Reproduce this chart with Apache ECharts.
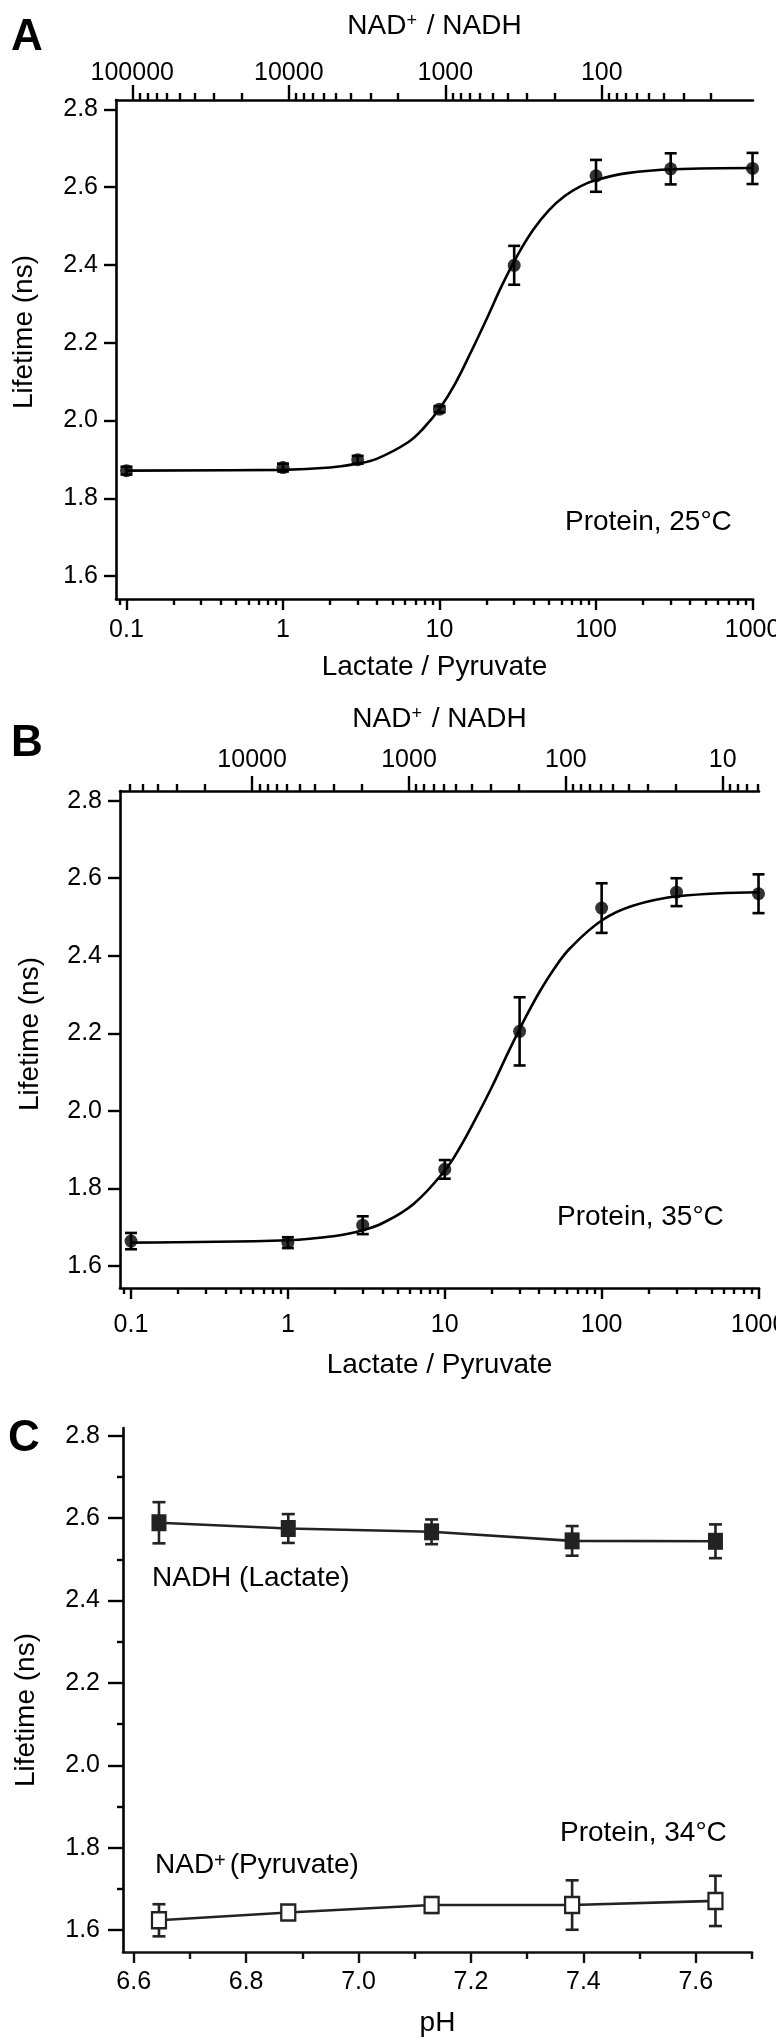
<!DOCTYPE html>
<html><head><meta charset="utf-8">
<script src="https://cdn.jsdelivr.net/npm/echarts@6/dist/echarts.min.js"></script>
<style>html,body{margin:0;padding:0;background:#fff}#c{width:776px;height:2039px}</style>
</head><body><div id="c"></div>
<script>
// ---------------- data ----------------
const lactatePyruvate = [0.1, 1, 3, 10, 30, 100, 300, 1000];
// Panel A: Protein, 25°C
const lifetimeA = [1.871, 1.879, 1.899, 2.029, 2.399, 2.629, 2.647, 2.648];
const errorA    = [0.010, 0.010, 0.010, 0.008, 0.050, 0.041, 0.040, 0.040];
// fitted curve (Lactate/Pyruvate, lifetime)
const fitA_ratio = [0.1, 1, 2, 3, 4, 6.3, 7.9, 10, 12.6, 15.8, 20, 25.1, 31.6, 39.8, 50.1, 63.1, 79.4, 100, 158, 316, 1000];
const fitA_life  = [1.871, 1.873, 1.879, 1.889, 1.902, 1.944, 1.980, 2.030, 2.095, 2.174, 2.261, 2.348, 2.426, 2.491, 2.541, 2.577, 2.602, 2.618, 2.636, 2.646, 2.649];
// Panel B: Protein, 35°C
const lifetimeB = [1.664, 1.660, 1.705, 1.849, 2.205, 2.523, 2.564, 2.560];
const errorB    = [0.021, 0.014, 0.023, 0.024, 0.088, 0.064, 0.036, 0.050];
const fitB_ratio = [0.1, 1, 2, 3, 4, 6.3, 10, 12.6, 15.8, 20, 25.1, 31.6, 39.8, 50.1, 63.1, 100, 158, 316, 1000];
const fitB_life  = [1.660, 1.666, 1.677, 1.692, 1.710, 1.759, 1.846, 1.908, 1.981, 2.062, 2.147, 2.229, 2.304, 2.368, 2.420, 2.491, 2.529, 2.554, 2.564];
// Panel C: Protein, 34°C
const pH = [6.645, 6.875, 7.13, 7.38, 7.635];
const nadhLactate    = [2.589, 2.575, 2.567, 2.545, 2.544];
const nadhLactateErr = [0.050, 0.035, 0.030, 0.036, 0.041];
const nadPyruvate    = [1.624, 1.643, 1.661, 1.661, 1.671];
const nadPyruvateErr = [0.039, 0.017, 0.019, 0.060, 0.061];

// tick labels
const lpTickValues = [0.1, 1, 10, 100, 1000];
const lpTickLabels = ['0.1', '1', '10', '100', '1000'];
const nadTickValuesA = [100000, 10000, 1000, 100];
const nadTickLabelsA = ['100000', '10000', '1000', '100'];
const nadTickValuesB = [10000, 1000, 100, 10];
const nadTickLabelsB = ['10000', '1000', '100', '10'];
const lifeTicks = [1.6, 1.8, 2.0, 2.2, 2.4, 2.6, 2.8];
const lifeTickLabels = ['1.6', '1.8', '2.0', '2.2', '2.4', '2.6', '2.8'];
const lifeMinorTicks = [1.7, 1.9, 2.1, 2.3, 2.5, 2.7];
const phTicks = [6.6, 6.8, 7.0, 7.2, 7.4, 7.6];
const phTickLabels = ['6.6', '6.8', '7.0', '7.2', '7.4', '7.6'];
const phMinorTicks = [6.7, 6.9, 7.1, 7.3, 7.5, 7.7];
// NAD+/NADH = 10^logK / (Lactate/Pyruvate)
const logK_A = 4.037;
const logK_B = 3.772;

// ---------------- helpers ----------------
const FONT = '"Liberation Sans", Arial, Helvetica, sans-serif';
const BLACK = '#000';
const log10 = Math.log10;
function minorLog(lo, hi) {
  const out = [];
  for (let n = Math.floor(lo) - 1; n <= Math.ceil(hi); n++) {
    for (let k = 2; k <= 9; k++) {
      const v = n + log10(k);
      if (v >= lo - 1e-9 && v <= hi + 1e-9) out.push(v);
    }
  }
  return out;
}
function nearestLabel(v, positions, labels) {
  let best = 0, bd = Infinity;
  positions.forEach((p, i) => { const d = Math.abs(p - v); if (d < bd) { bd = d; best = i; } });
  return labels[best];
}
const lineW = 2.6;
function errRender(cap, color) {
  return function (params, api) {
    const x = api.value(0), y = api.value(1), e = api.value(2);
    const t = api.coord([x, y + e]), b = api.coord([x, y - e]);
    const h = cap / 2;
    const st = { stroke: color, lineWidth: lineW, fill: null };
    return { type: 'group', children: [
      { type: 'line', shape: { x1: t[0], y1: t[1], x2: b[0], y2: b[1] }, style: st },
      { type: 'line', shape: { x1: t[0] - h, y1: t[1], x2: t[0] + h, y2: t[1] }, style: st },
      { type: 'line', shape: { x1: b[0] - h, y1: b[1], x2: b[0] + h, y2: b[1] }, style: st }
    ]};
  };
}
const xTickFont = { fontSize: 25, color: BLACK, fontFamily: FONT, alignMinLabel: 'center', alignMaxLabel: 'center', hideOverlap: false };
const yTickFont = { fontSize: 25, color: BLACK, fontFamily: FONT };
const titleFont = { fontSize: 28, color: BLACK, fontFamily: FONT };
const supRich = { sup: { fontSize: 18, verticalAlign: 'top', fontFamily: FONT, color: BLACK, padding: [0, 2, 0, 0] } };

// grids (plot rectangles)
const G = [
  { left: 116, top: 100, width: 637, height: 499 },
  { left: 120, top: 791, width: 639, height: 497 },
  { left: 123, top: 1428, width: 629, height: 524 }
];
const xRangeA = [-1.067, 3.003], xRangeB = [-1.070, 3.003];
const yRangeA = [1.541, 2.824], yRangeB = [1.543, 2.825], yRangeC = [1.547, 2.819];
const xRangeC = [6.581, 7.7];

function logPanelAxes(gi, xr, logK, nadVals, nadLabels, botMargin, botGap, topMargin, topGap) {
  const botMajor = lpTickValues.map(log10);
  const botMinor = minorLog(xr[0], xr[1]);
  const topMajor = nadVals.map(v => logK - log10(v));
  const topMinor = minorLog(logK - xr[1], logK - xr[0]).map(t => logK - t);
  const common = { gridIndex: gi, type: 'value', min: xr[0], max: xr[1], splitLine: { show: false } };
  return [
    Object.assign({}, common, {
      position: 'bottom',
      axisLine: { show: true, onZero: false, lineStyle: { color: BLACK, width: lineW } },
      axisTick: { show: true, customValues: botMajor, length: 11, lineStyle: { color: BLACK, width: 2.4 } },
      axisLabel: Object.assign({ customValues: botMajor, margin: botMargin,
        formatter: v => nearestLabel(v, botMajor, lpTickLabels) }, xTickFont),
      name: 'Lactate / Pyruvate', nameLocation: 'middle', nameGap: botGap, nameTextStyle: titleFont
    }),
    Object.assign({}, common, {
      position: 'bottom',
      axisLine: { show: false, onZero: false },
      axisTick: { show: true, customValues: botMinor, length: 6, lineStyle: { color: BLACK, width: 2.4 } },
      axisLabel: { show: false }
    }),
    Object.assign({}, common, {
      position: 'top',
      axisLine: { show: true, onZero: false, lineStyle: { color: BLACK, width: lineW } },
      axisTick: { show: true, customValues: topMajor, length: 15, lineStyle: { color: BLACK, width: 2.4 } },
      axisLabel: Object.assign({ customValues: topMajor, margin: topMargin,
        formatter: v => nearestLabel(v, topMajor, nadLabels) }, xTickFont),
      name: 'NAD{sup|+} / NADH', nameLocation: 'middle', nameGap: topGap,
      nameTextStyle: Object.assign({ rich: supRich }, titleFont)
    }),
    Object.assign({}, common, {
      position: 'top',
      axisLine: { show: false, onZero: false },
      axisTick: { show: true, customValues: topMinor, length: 7, lineStyle: { color: BLACK, width: 2.4 } },
      axisLabel: { show: false }
    })
  ];
}

const xAxes = [].concat(
  logPanelAxes(0, xRangeA, logK_A, nadTickValuesA, nadTickLabelsA, 19, 54, 14, 60),
  logPanelAxes(1, xRangeB, logK_B, nadTickValuesB, nadTickLabelsB, 25, 63, 18, 58),
  [
    { gridIndex: 2, type: 'value', min: xRangeC[0], max: xRangeC[1], position: 'bottom', splitLine: { show: false },
      axisLine: { show: true, onZero: false, lineStyle: { color: '#111', width: lineW } },
      axisTick: { show: true, customValues: phTicks, length: 11, lineStyle: { color: '#111', width: 2.4 } },
      axisLabel: Object.assign({ customValues: phTicks, margin: 18,
        formatter: v => nearestLabel(v, phTicks, phTickLabels) }, xTickFont),
      name: 'pH', nameLocation: 'middle', nameGap: 57, nameTextStyle: titleFont },
    { gridIndex: 2, type: 'value', min: xRangeC[0], max: xRangeC[1], position: 'bottom', splitLine: { show: false },
      axisLine: { show: false, onZero: false },
      axisTick: { show: true, customValues: phMinorTicks, length: 7, lineStyle: { color: '#111', width: 2.4 } },
      axisLabel: { show: false } }
  ]
);

function yAx(gi, yr, margin, len) {
  return { gridIndex: gi, type: 'value', min: yr[0], max: yr[1], position: 'left', splitLine: { show: false },
    axisLine: { show: true, onZero: false, lineStyle: { color: BLACK, width: lineW } },
    axisTick: { show: true, customValues: lifeTicks, length: len, lineStyle: { color: BLACK, width: 2.4 } },
    axisLabel: Object.assign({ customValues: lifeTicks, margin: margin,
      formatter: v => nearestLabel(v, lifeTicks, lifeTickLabels) }, yTickFont) };
}
const yAxes = [
  yAx(0, yRangeA, 18, 12),
  yAx(1, yRangeB, 18, 12),
  yAx(2, yRangeC, 23, 15),
  { gridIndex: 2, type: 'value', min: yRangeC[0], max: yRangeC[1], position: 'left', splitLine: { show: false },
    axisLine: { show: false, onZero: false },
    axisTick: { show: true, customValues: lifeMinorTicks, length: 6, lineStyle: { color: BLACK, width: 2.4 } },
    axisLabel: { show: false } }
];

function sigmoidPanel(xi, yi, life, err, fx, fy) {
  return [
    { type: 'line', xAxisIndex: xi, yAxisIndex: yi, data: fx.map((r, i) => [log10(r), fy[i]]),
      smooth: 0.4, showSymbol: false, symbol: 'none', silent: true, z: 2,
      lineStyle: { color: BLACK, width: lineW } },
    { type: 'custom', xAxisIndex: xi, yAxisIndex: yi, encode: { x: 0, y: 1 }, z: 3, silent: true,
      data: lactatePyruvate.map((r, i) => [log10(r), life[i], err[i]]), renderItem: errRender(12, BLACK) },
    { type: 'scatter', xAxisIndex: xi, yAxisIndex: yi, symbol: 'circle', symbolSize: 13, z: 4, silent: true,
      itemStyle: { color: BLACK }, data: lactatePyruvate.map((r, i) => [log10(r), life[i]]) }
  ];
}

const series = [].concat(
  sigmoidPanel(0, 0, lifetimeA, errorA, fitA_ratio, fitA_life),
  sigmoidPanel(4, 1, lifetimeB, errorB, fitB_ratio, fitB_life),
  [
    { type: 'custom', xAxisIndex: 8, yAxisIndex: 2, encode: { x: 0, y: 1 }, z: 2, silent: true,
      data: pH.map((p, i) => [p, nadhLactate[i], nadhLactateErr[i]]), renderItem: errRender(13, '#222') },
    { type: 'custom', xAxisIndex: 8, yAxisIndex: 2, encode: { x: 0, y: 1 }, z: 2, silent: true,
      data: pH.map((p, i) => [p, nadPyruvate[i], nadPyruvateErr[i]]), renderItem: errRender(13, '#222') },
    { type: 'line', name: 'NADH (Lactate)', xAxisIndex: 8, yAxisIndex: 2, z: 3, silent: true,
      data: pH.map((p, i) => [p, nadhLactate[i]]), symbol: 'rect', symbolSize: [15, 17], showSymbol: true,
      itemStyle: { color: '#222' }, lineStyle: { color: '#222', width: lineW } },
    { type: 'line', name: 'NAD+ (Pyruvate)', xAxisIndex: 8, yAxisIndex: 2, z: 3, silent: true,
      data: pH.map((p, i) => [p, nadPyruvate[i]]), symbol: 'rect', symbolSize: [14, 16], showSymbol: true,
      itemStyle: { color: '#fff', borderColor: '#222', borderWidth: 2.4 }, lineStyle: { color: '#222', width: lineW } }
  ]
);

function txt(text, x, y, size, opts) {
  return Object.assign({ type: 'text', x: x, y: y, silent: true,
    style: Object.assign({ text: text, fill: BLACK, font: size + 'px ' + FONT, verticalAlign: 'middle', align: 'left' },
      (opts && opts.style) || {}) }, (opts && opts.el) || {});
}
const graphics = [
  txt('A', 11, 38, 44, { style: { font: 'bold 44px ' + FONT } }),
  txt('B', 11, 744, 44, { style: { font: 'bold 44px ' + FONT } }),
  txt('C', 8, 1439, 44, { style: { font: 'bold 44px ' + FONT } }),
  txt('Lifetime (ns)', 24, 332, 28, { style: { align: 'center' }, el: { rotation: Math.PI / 2 } }),
  txt('Lifetime (ns)', 30, 1034, 28, { style: { align: 'center' }, el: { rotation: Math.PI / 2 } }),
  txt('Lifetime (ns)', 26, 1710, 28, { style: { align: 'center' }, el: { rotation: Math.PI / 2 } }),
  txt('Protein, 25°C', 565, 522, 28),
  txt('Protein, 35°C', 557, 1217, 28),
  txt('Protein, 34°C', 560, 1833, 28),
  txt('NADH (Lactate)', 152, 1578, 28),
  { type: 'text', x: 155, y: 1865, silent: true,
    style: { text: 'NAD{sup|+}(Pyruvate)', fill: BLACK, font: '28px ' + FONT, verticalAlign: 'middle', align: 'left',
      rich: { sup: { fontSize: 20, fontFamily: FONT, verticalAlign: 'top', fill: BLACK, padding: [0, 4, 0, 0] } } } }
];

const chart = echarts.init(document.getElementById('c'), null, { renderer: 'canvas', width: 776, height: 2039 });
chart.setOption({
  animation: false,
  backgroundColor: '#fff',
  grid: G.map(g => Object.assign({ containLabel: false, outerBoundsMode: 'none' }, g)),
  xAxis: xAxes,
  yAxis: yAxes,
  series: series,
  graphic: { elements: graphics }
});
</script></body></html>
